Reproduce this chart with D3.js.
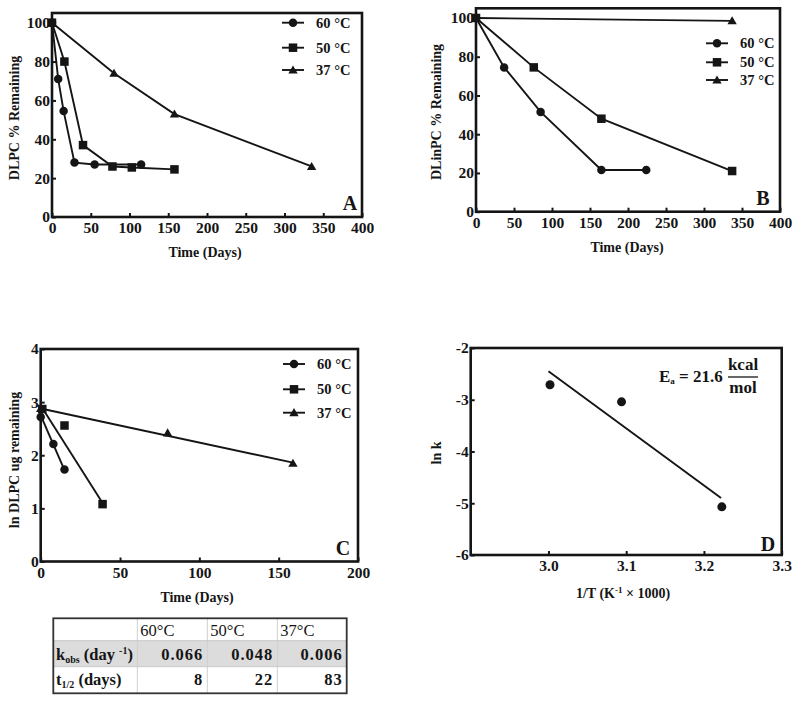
<!DOCTYPE html>
<html>
<head>
<meta charset="utf-8">
<script src="https://cdn.jsdelivr.net/npm/d3@7/dist/d3.min.js"></script>
<style>
  html, body { margin: 0; padding: 0; background: #fff; }
  svg { display: block; }
  text { font-family: "Liberation Serif", "Times New Roman", serif; fill: #151515; }
</style>
</head>
<body>
<svg id="chart" width="800" height="704"></svg>
<script>
// ---------- DATA ----------
const seriesLabels = ["60 °C", "50 °C", "37 °C"];
const symbolTypes = ["circle", "square", "triangle"];

// Panel A: DLPC % remaining vs time (days)
const aDays60 = [0, 8, 15, 29, 55, 115];
const aPct60  = [100, 71, 54.5, 28, 27, 27];
const aDays50 = [0, 16, 40, 78, 103, 158];
const aPct50  = [100, 80, 37, 26, 25.5, 24.5];
const aDays37 = [0, 80, 158, 335];
const aPct37  = [100, 74, 53, 26];

// Panel B: DLinPC % remaining vs time (days)
const bDays60 = [0, 37, 85, 165, 224];
const bPct60  = [100, 74.5, 51.5, 21.5, 21.5];
const bDays50 = [0, 76, 165, 337];
const bPct50  = [100, 74.5, 48, 21];
const bDays37 = [0, 337];
const bPct37  = [100, 98.5];

// Panel C: ln DLPC ug remaining vs time (days), points + fitted lines
const cDays60 = [0, 8, 15];
const cLn60   = [2.72, 2.21, 1.73];
const cFitDays60 = [0, 15];
const cFitLn60   = [2.75, 1.72];
const cDays50 = [1, 15, 39];
const cLn50   = [2.87, 2.56, 1.08];
const cFitDays50 = [1, 39];
const cFitLn50   = [2.89, 1.10];
const cDays37 = [0, 80, 159];
const cLn37   = [2.88, 2.42, 1.85];
const cFitDays37 = [0, 159];
const cFitLn37   = [2.88, 1.86];

// Panel D: Arrhenius plot
const dInvT = [3.002, 3.094, 3.223];
const dLnK  = [-2.71, -3.04, -5.07];
const dFitInvT = [3.0, 3.222];
const dFitLnK  = [-2.45, -4.90];

// Ticks
const ticksA_x = [0, 50, 100, 150, 200, 250, 300, 350, 400];
const ticksA_y = [0, 20, 40, 60, 80, 100];
const ticksC_x = [0, 50, 100, 150, 200];
const ticksC_y = [0, 1, 2, 3, 4];
const ticksD_x = [3.0, 3.1, 3.2, 3.3];
const ticksD_y = [-6, -5, -4, -3, -2];

// Table
const tableTemps = ["60°C", "50°C", "37°C"];
const tableKobs  = ["0.066", "0.048", "0.006"];
const tableThalf = ["8", "22", "83"];

// ---------- DRAWING ----------
const svg = d3.select("#chart");
const INK = "#151515";

function symbol(g, type, x, y, s) {
  if (type === "circle") {
    g.append("circle").attr("cx", x).attr("cy", y).attr("r", s * 0.5).attr("fill", INK);
  } else if (type === "square") {
    g.append("rect").attr("x", x - s * 0.5).attr("y", y - s * 0.5).attr("width", s).attr("height", s).attr("fill", INK);
  } else {
    const h = s * 0.9;
    g.append("path").attr("d", `M${x},${y - h * 0.6}L${x + s * 0.55},${y + h * 0.45}L${x - s * 0.55},${y + h * 0.45}Z`).attr("fill", INK);
  }
}

const fmtInt = d => String(Math.round(d));
const fmt1 = d => d.toFixed(1);

function panel(cfg) {
  const g = svg.append("g");
  const x = d3.scaleLinear().domain(cfg.xDomain).range(cfg.xRange);
  const y = d3.scaleLinear().domain(cfg.yDomain).range(cfg.yRange);

  // axes (ticks inside)
  const xa = g.append("g").attr("transform", `translate(0,${cfg.yRange[0]})`)
    .call(d3.axisBottom(x).tickValues(cfg.xTicks).tickSize(-4).tickPadding(5).tickFormat(cfg.xFmt || fmtInt));
  const ya = g.append("g").attr("transform", `translate(${cfg.xRange[0]},0)`)
    .call(d3.axisLeft(y).tickValues(cfg.yTicks).tickSize(-4).tickPadding(2).tickFormat(cfg.yFmt || fmtInt));
  [xa, ya].forEach(a => {
    a.select(".domain").remove();
    a.selectAll(".tick line").attr("stroke", INK).attr("stroke-width", 2);
    a.selectAll(".tick text").attr("font-size", 15.5).attr("font-weight", "bold").attr("fill", INK)
      .style("font-family", '"Liberation Serif", serif');
  });

  // frame
  g.append("rect")
    .attr("x", cfg.xRange[0]).attr("y", cfg.yRange[1])
    .attr("width", cfg.xRange[1] - cfg.xRange[0]).attr("height", cfg.yRange[0] - cfg.yRange[1])
    .attr("fill", "none").attr("stroke", INK).attr("stroke-width", 2.6);

  const line = d3.line().x(d => x(d[0])).y(d => y(d[1]));
  (cfg.lines || []).forEach(L => {
    g.append("path").attr("d", line(d3.zip(L.xs, L.ys))).attr("fill", "none")
      .attr("stroke", INK).attr("stroke-width", 1.9);
  });
  (cfg.points || []).forEach(P => {
    P.xs.forEach((xv, i) => symbol(g, P.type, x(xv), y(P.ys[i]), P.size || 8.5));
  });

  // legend
  if (cfg.legend) {
    cfg.legend.ys.forEach((ly, i) => {
      g.append("line").attr("x1", cfg.legend.x0).attr("x2", cfg.legend.x1).attr("y1", ly).attr("y2", ly)
        .attr("stroke", INK).attr("stroke-width", 1.9);
      symbol(g, symbolTypes[i], (cfg.legend.x0 + cfg.legend.x1) / 2, ly, 8.5);
      g.append("text").attr("x", cfg.legend.tx).attr("y", ly + 5).attr("font-size", 14.5)
        .attr("font-weight", "bold").text(seriesLabels[i]);
    });
  }

  // panel letter
  g.append("text").attr("x", cfg.letter.x).attr("y", cfg.letter.y).attr("text-anchor", "middle")
    .attr("font-size", 20).attr("font-weight", "bold").text(cfg.letter.t);

  // axis titles
  const xt = g.append("text").attr("x", cfg.xTitle.x).attr("y", cfg.xTitle.y).attr("text-anchor", "middle")
    .attr("font-size", 14).attr("font-weight", "bold");
  if (cfg.xTitle.build) cfg.xTitle.build(xt); else xt.text(cfg.xTitle.t);
  g.append("text").attr("transform", `translate(${cfg.yTitle.x},${cfg.yTitle.y}) rotate(-90)`)
    .attr("text-anchor", "middle").attr("font-size", 14).attr("font-weight", "bold").text(cfg.yTitle.t);
  return { g, x, y };
}

// Panel A
panel({
  xDomain: [0, 400], xRange: [52, 362], yDomain: [0, 105], yRange: [217, 13],
  xTicks: ticksA_x, yTicks: ticksA_y,
  lines: [{ xs: aDays60, ys: aPct60 }, { xs: aDays50, ys: aPct50 }, { xs: aDays37, ys: aPct37 }],
  points: [{ type: "circle", xs: aDays60, ys: aPct60 }, { type: "square", xs: aDays50, ys: aPct50 },
           { type: "triangle", xs: aDays37, ys: aPct37 }],
  legend: { x0: 282, x1: 304, tx: 316, ys: [22.7, 47.7, 70] },
  letter: { t: "A", x: 350, y: 210 },
  xTitle: { t: "Time (Days)", x: 205, y: 257 },
  yTitle: { t: "DLPC % Remaining", x: 19, y: 118 }
});

// Panel B
panel({
  xDomain: [0, 400], xRange: [476, 780], yDomain: [0, 105], yRange: [211.7, 8.3],
  xTicks: ticksA_x, yTicks: ticksA_y,
  lines: [{ xs: bDays60, ys: bPct60 }, { xs: bDays50, ys: bPct50 }, { xs: bDays37, ys: bPct37 }],
  points: [{ type: "circle", xs: bDays60, ys: bPct60 }, { type: "square", xs: bDays50, ys: bPct50 },
           { type: "triangle", xs: bDays37, ys: bPct37 }],
  legend: { x0: 706, x1: 728, tx: 740, ys: [43.3, 62.3, 80] },
  letter: { t: "B", x: 763, y: 205 },
  xTitle: { t: "Time (Days)", x: 627, y: 252 },
  yTitle: { t: "DLinPC % Remaining", x: 441, y: 112 }
});

// Panel C
panel({
  xDomain: [0, 200], xRange: [40.7, 358], yDomain: [0, 4], yRange: [561.5, 349],
  xTicks: ticksC_x, yTicks: ticksC_y,
  lines: [{ xs: cFitDays60, ys: cFitLn60 }, { xs: cFitDays50, ys: cFitLn50 }, { xs: cFitDays37, ys: cFitLn37 }],
  points: [{ type: "circle", xs: cDays60, ys: cLn60 }, { type: "square", xs: cDays50, ys: cLn50 },
           { type: "triangle", xs: cDays37, ys: cLn37 }],
  legend: { x0: 283, x1: 305, tx: 317, ys: [364, 389.3, 412.7] },
  letter: { t: "C", x: 343, y: 555 },
  xTitle: { t: "Time (Days)", x: 197, y: 602 },
  yTitle: { t: "ln DLPC ug remaining", x: 19, y: 460 }
});

// Panel D
const pD = panel({
  xDomain: [2.9, 3.3], xRange: [470.7, 781.7], yDomain: [-6, -2], yRange: [555, 348],
  xTicks: ticksD_x, yTicks: ticksD_y, xFmt: fmt1, yFmt: fmtInt,
  lines: [{ xs: dFitInvT, ys: dFitLnK }],
  points: [{ type: "circle", xs: dInvT, ys: dLnK, size: 9 }],
  letter: { t: "D", x: 768, y: 551 },
  xTitle: { x: 623, y: 598, build: t => {
    t.append("tspan").text("1/T (K");
    t.append("tspan").attr("font-size", 9).attr("dy", -5).text("-1");
    t.append("tspan").attr("dy", 5).text(" × 1000)");
  } },
  yTitle: { t: "ln k", x: 441, y: 453 }
});
// Activation energy annotation
(() => {
  const g = pD.g;
  const t = g.append("text").attr("x", 659).attr("y", 382).attr("font-size", 17).attr("font-weight", "bold");
  t.append("tspan").text("E");
  t.append("tspan").attr("font-size", 9).attr("dy", 2).text("a");
  t.append("tspan").attr("dy", -2).text(" = 21.6");
  g.append("text").attr("x", 743).attr("y", 370).attr("text-anchor", "middle").attr("font-size", 17)
    .attr("font-weight", "bold").text("kcal");
  g.append("line").attr("x1", 728).attr("x2", 758).attr("y1", 377).attr("y2", 377).attr("stroke", INK).attr("stroke-width", 1.3);
  g.append("text").attr("x", 743).attr("y", 393).attr("text-anchor", "middle").attr("font-size", 17)
    .attr("font-weight", "bold").text("mol");
})();

// ---------- TABLE ----------
(() => {
  const g = svg.append("g");
  const colX = [53.3, 137.3, 207.3, 277.3, 346.7];
  const rowY = [618.3, 640.7, 666.7, 693.3];
  g.append("rect").attr("x", colX[0]).attr("y", rowY[1]).attr("width", colX[4] - colX[0])
    .attr("height", rowY[2] - rowY[1]).attr("fill", "#dcdcdc");
  [colX[1], colX[2], colX[3]].forEach(cx => g.append("line").attr("x1", cx).attr("x2", cx)
    .attr("y1", rowY[0]).attr("y2", rowY[3]).attr("stroke", "#d0d0d0").attr("stroke-width", 1));
  [rowY[1], rowY[2]].forEach(ry => g.append("line").attr("x1", colX[0]).attr("x2", colX[4])
    .attr("y1", ry).attr("y2", ry).attr("stroke", "#c8c8c8").attr("stroke-width", 1));
  g.append("rect").attr("x", colX[0]).attr("y", rowY[0]).attr("width", colX[4] - colX[0])
    .attr("height", rowY[3] - rowY[0]).attr("fill", "none").attr("stroke", "#333").attr("stroke-width", 1.8);

  tableTemps.forEach((t, i) => g.append("text").attr("x", colX[i + 1] + 3).attr("y", 635.5)
    .attr("font-size", 16.5).text(t));
  const r1 = g.append("text").attr("x", 56).attr("y", 660).attr("font-size", 16.5).attr("font-weight", "bold");
  r1.append("tspan").text("k");
  r1.append("tspan").attr("font-size", 10).attr("dy", 3).text("obs");
  r1.append("tspan").attr("dy", -3).text(" (day ");
  r1.append("tspan").attr("font-size", 10).attr("dy", -6).text("-1");
  r1.append("tspan").attr("dy", 6).text(")");
  const r2 = g.append("text").attr("x", 56).attr("y", 685).attr("font-size", 16.5).attr("font-weight", "bold");
  r2.append("tspan").text("t");
  r2.append("tspan").attr("font-size", 10).attr("dy", 3).text("1/2");
  r2.append("tspan").attr("dy", -3).text(" (days)");

  tableKobs.forEach((v, i) => g.append("text").attr("x", colX[i + 2] - 4).attr("y", 660)
    .attr("text-anchor", "end").attr("font-size", 16.5).attr("font-weight", "bold").attr("letter-spacing", 1).text(v));
  tableThalf.forEach((v, i) => g.append("text").attr("x", colX[i + 2] - 4).attr("y", 685)
    .attr("text-anchor", "end").attr("font-size", 16.5).attr("font-weight", "bold").attr("letter-spacing", 1).text(v));
})();
</script>
</body>
</html>
